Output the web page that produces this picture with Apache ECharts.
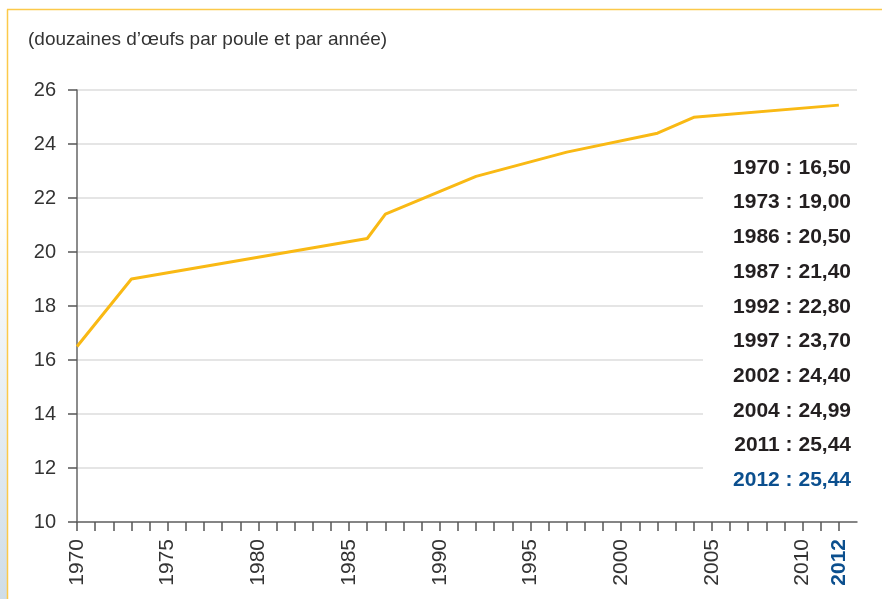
<!DOCTYPE html>
<html>
<head>
<meta charset="utf-8">
<script src="https://cdn.jsdelivr.net/npm/echarts@6/dist/echarts.min.js"></script>
<style>html,body{margin:0;padding:0;background:#fff}#c{width:882px;height:599px}</style>
</head>
<body>
<div id="c"></div>
<script>
// Plotted line (as drawn in the picture: 2004 runs straight to 2012)
var lineYears = [1970, 1973, 1986, 1987, 1992, 1997, 2002, 2004, 2012];
var lineValues = [16.50, 19.00, 20.50, 21.40, 22.80, 23.70, 24.40, 24.99, 25.44];
// Value list shown on the right
var labelYears = [1970, 1973, 1986, 1987, 1992, 1997, 2002, 2004, 2011, 2012];
var labelTexts = ['16,50', '19,00', '20,50', '21,40', '22,80', '23,70', '24,40', '24,99', '25,44', '25,44'];
var yTicks = [10, 12, 14, 16, 18, 20, 22, 24, 26];
var xLabelYears = [1970, 1975, 1980, 1985, 1990, 1995, 2000, 2005, 2010, 2012];
var subtitle = '(douzaines d\u2019\u0153ufs par poule et par ann\u00e9e)';

var tickYears = [];
for (var y = 1970; y <= 2012; y++) tickYears.push(y);

var FONT = '"Liberation Sans", Arial, sans-serif';
var chart = echarts.init(document.getElementById('c'));

var graphics = [
  {type: 'rect', shape: {x: 0, y: 0, width: 7, height: 599}, silent: true, z: 100,
   style: {fill: new echarts.graphic.LinearGradient(0, 0, 0, 1, [
     {offset: 0, color: '#ffffff'}, {offset: 0.35, color: '#ffffff'}, {offset: 1, color: '#cfdde7'}])}},
  {type: 'line', shape: {x1: 7.5, y1: 9.5, x2: 7.5, y2: 599}, style: {stroke: '#fcc94a', lineWidth: 1.5}, silent: true, z: 100},
  {type: 'line', shape: {x1: 7, y1: 9.5, x2: 882, y2: 9.5}, style: {stroke: '#fcc94a', lineWidth: 1.5}, silent: true, z: 100},
  {type: 'rect', shape: {x: 703, y: 150, width: 154, height: 346},
   style: {fill: '#ffffff'}, silent: true, z: 100}
];
labelYears.forEach(function (yr, i) {
  var last = i === labelYears.length - 1;
  graphics.push({
    type: 'text', z: 101, silent: true,
    style: {
      text: yr + ' : ' + labelTexts[i],
      x: 851, y: 168 + i * 34.7,
      align: 'right', verticalAlign: 'middle',
      font: 'bold 21px ' + FONT,
      fill: last ? '#0b4f8e' : '#231f20'
    }
  });
});

chart.setOption({
  backgroundColor: '#ffffff',
  animation: false,
  title: {
    text: subtitle, left: 23, top: 25,
    textStyle: {fontFamily: FONT, fontSize: 19, fontWeight: 'normal', color: '#333333'}
  },
  grid: {left: 77, right: 25, top: 90, bottom: 77},
  xAxis: {
    type: 'value', min: 1970, max: 2013, interval: 1,
    axisLine: {show: true, lineStyle: {color: '#666666', width: 1.5}},
    axisTick: {show: true, length: 9, customValues: tickYears, lineStyle: {color: '#555555', width: 1.5}},
    splitLine: {show: false},
    axisLabel: {
      customValues: xLabelYears,
      rotate: 90, margin: 17,
      fontFamily: FONT, fontSize: 21, color: '#333333',
      formatter: function (v) { return v === 2012 ? '{b|' + v + '}' : String(v); },
      rich: {b: {fontWeight: 'bold', color: '#0b4f8e', fontFamily: FONT, fontSize: 21}}
    }
  },
  yAxis: {
    type: 'value', min: 10, max: 26, interval: 2,
    axisLine: {show: true, lineStyle: {color: '#666666', width: 1.5}},
    axisTick: {show: true, length: 9, lineStyle: {color: '#555555', width: 1.5}},
    splitLine: {show: true, lineStyle: {color: '#dcdcdc', width: 1.5}},
    axisLabel: {margin: 21, fontFamily: FONT, fontSize: 20, color: '#333333'}
  },
  series: [{
    type: 'line',
    data: lineYears.map(function (yr, i) { return [yr, lineValues[i]]; }),
    showSymbol: false,
    lineStyle: {color: '#f9b914', width: 3},
    z: 3
  }],
  graphic: graphics
});
</script>
</body>
</html>
